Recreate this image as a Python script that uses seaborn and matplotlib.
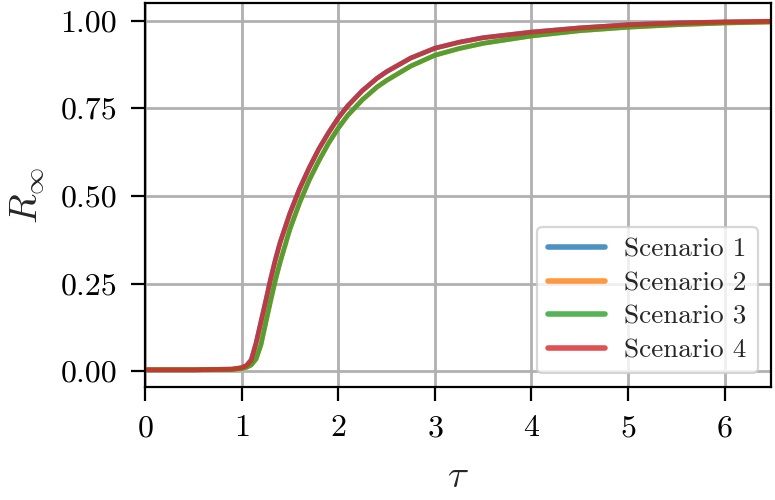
import pandas as pd
import matplotlib
matplotlib.use("Agg")
import matplotlib.pyplot as plt
import seaborn as sns

# values
tau = [0.0, 0.5, 0.9, 1.0, 1.05, 1.1, 1.15, 1.2, 1.25, 1.3, 1.35, 1.4, 1.5, 1.6,
       1.7, 1.8, 1.9, 2.0, 2.1, 2.25, 2.4, 2.5, 2.75, 3.0, 3.25, 3.5, 4.0, 4.5,
       5.0, 5.5, 6.0, 6.5]

scenario_1 = [0.004, 0.004, 0.006, 0.010, 0.016, 0.032, 0.080, 0.140, 0.200, 0.262,
              0.318, 0.368, 0.450, 0.520, 0.580, 0.634, 0.680, 0.722, 0.757, 0.800,
              0.835, 0.854, 0.893, 0.921, 0.938, 0.951, 0.967, 0.979, 0.988, 0.993,
              0.996, 0.998]
scenario_2 = [0.004, 0.004, 0.005, 0.008, 0.011, 0.018, 0.035, 0.075, 0.138, 0.200,
              0.260, 0.312, 0.405, 0.480, 0.545, 0.600, 0.650, 0.693, 0.730, 0.774,
              0.810, 0.829, 0.870, 0.901, 0.920, 0.935, 0.956, 0.971, 0.981, 0.988,
              0.993, 0.996]
scenario_3 = [0.004, 0.004, 0.005, 0.008, 0.011, 0.018, 0.035, 0.075, 0.138, 0.200,
              0.260, 0.312, 0.405, 0.480, 0.545, 0.600, 0.650, 0.693, 0.730, 0.774,
              0.810, 0.829, 0.870, 0.901, 0.920, 0.935, 0.956, 0.971, 0.981, 0.988,
              0.993, 0.996]
scenario_4 = [0.004, 0.004, 0.006, 0.010, 0.016, 0.032, 0.080, 0.140, 0.200, 0.262,
              0.318, 0.368, 0.450, 0.520, 0.580, 0.634, 0.680, 0.722, 0.757, 0.800,
              0.835, 0.854, 0.893, 0.921, 0.938, 0.951, 0.967, 0.979, 0.988, 0.993,
              0.996, 0.998]

names = ["Scenario 1", "Scenario 2", "Scenario 3", "Scenario 4"]
colors = ["#1f77b4", "#ff7f0e", "#2ca02c", "#d62728"]

sns.set_style("ticks")
plt.rcParams["font.family"] = ["cmr10"]
plt.rcParams["mathtext.fontset"] = "cm"
plt.rcParams["axes.formatter.use_mathtext"] = True
plt.rcParams["axes.unicode_minus"] = False

# long format table for seaborn
frames = []
for name, vals in zip(names, [scenario_1, scenario_2, scenario_3, scenario_4]):
    frames.append(pd.DataFrame({"tau": tau, "R": vals, "Scenario": name}))
df = pd.concat(frames, ignore_index=True)

fig, ax = plt.subplots(figsize=(3.875, 2.5), dpi=200)
fig.subplots_adjust(left=0.187, right=0.995, top=0.994, bottom=0.226)

sns.lineplot(data=df, x="tau", y="R", hue="Scenario", hue_order=names,
             palette=colors, linewidth=1.7, alpha=0.8, ax=ax)

ax.set_xlim(0, 6.48)
ax.set_ylim(-0.045, 1.05)
ax.set_xticks([0, 1, 2, 3, 4, 5, 6])
ax.set_yticks([0.0, 0.25, 0.5, 0.75, 1.0])
ax.set_yticklabels(["0.00", "0.25", "0.50", "0.75", "1.00"])

ax.grid(True, color="#b0b0b0", linewidth=1.0)
ax.set_axisbelow(True)
for sp in ax.spines.values():
    sp.set_color("black")
    sp.set_linewidth(0.8)
ax.tick_params(axis="both", direction="out", length=5, width=0.8,
               pad=5, labelsize=11.5, colors="black")

ax.set_xlabel(r"$\tau$", fontsize=14, labelpad=6)
ax.set_ylabel(r"$R_\infty$", fontsize=14, labelpad=5)

handles, labels = ax.get_legend_handles_labels()
for h in handles:
    h.set_alpha(0.8)
    h.set_linewidth(2.0)
leg = ax.legend(handles, labels, loc="lower right", fontsize=9.8, handlelength=2.1,
                handletextpad=0.7, labelspacing=0.35, borderpad=0.4,
                framealpha=0.8, edgecolor="#cccccc", fancybox=True)
leg.get_frame().set_linewidth(0.8)

plt.savefig("out.png", dpi=200)
